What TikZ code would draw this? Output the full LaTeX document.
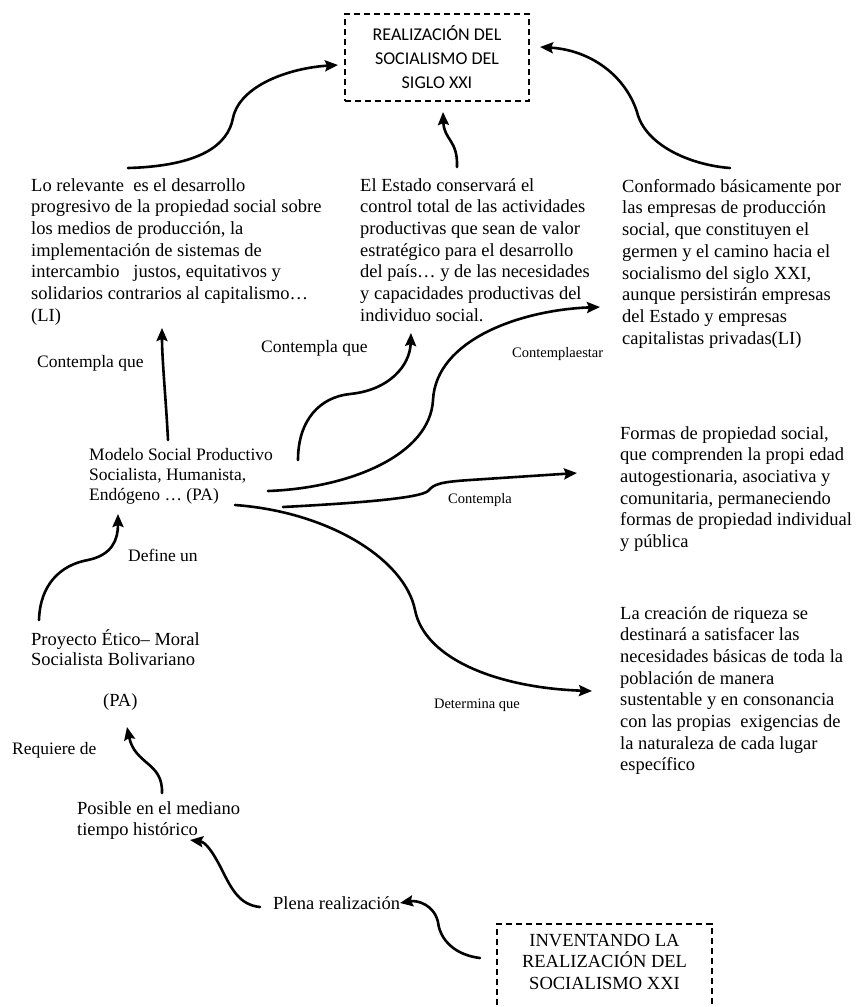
\documentclass[tikz,border=0pt]{standalone}
\usepackage{fontspec}
\setmainfont{Liberation Serif}
\newfontfamily\calibri{Carlito}
\usetikzlibrary{arrows.meta}

\begin{document}
\begin{tikzpicture}[
    x=1pt, y=-1pt,
    block/.style={anchor=north west, inner sep=0pt, align=left, font=\fontsize{18.5}{21.7}\selectfont},
    label/.style={anchor=west, inner sep=0pt, font=\fontsize{17.5}{20}\selectfont},
    smalllabel/.style={anchor=west, inner sep=0pt, font=\fontsize{14.5}{17}\selectfont},
    dbox/.style={draw, line width=1.8pt, dash pattern=on 6pt off 4pt, align=center},
    arrow/.style={-{Stealth[length=13pt,width=11pt,inset=2pt]}, line width=2.6pt, line cap=round}
]
    \clip (0,0) rectangle (855,1007);

    \node[dbox, minimum width=184pt, minimum height=87pt, font=\calibri\fontsize{18}{24}\selectfont] (goal) at (437,57.5) {REALIZACIÓN DEL\\SOCIALISMO DEL\\SIGLO XXI};
    \node[dbox, anchor=north, minimum width=215pt, inner ysep=10pt, text depth=30pt, font=\fontsize{18.5}{21.5}\selectfont] (inventando) at (604.5,923) {INVENTANDO LA\\REALIZACIÓN DEL\\SOCIALISMO XXI};

    \node[block] (relevante) at (31,178) {Lo relevante\ \ es el desarrollo\\progresivo de la propiedad social sobre\\los medios de producción, la\\implementación de sistemas de\\intercambio\ \ \ justos, equitativos y\\solidarios contrarios al capitalismo…\\(LI)};
    \node[block] (estado) at (360,178) {El Estado conservará el\\control total de las actividades\\productivas que sean de valor\\estratégico para el desarrollo\\del país… y de las necesidades\\y capacidades productivas del\\individuo social.};
    \node[block] (conformado) at (622,179) {Conformado básicamente por\\las empresas de producción\\social, que constituyen el\\germen y el camino hacia el\\socialismo del siglo XXI,\\aunque persistirán empresas\\del Estado y empresas\\capitalistas privadas(LI)};
    \node[block] (formas) at (620,426) {Formas de propiedad social,\\que comprenden la propi edad\\autogestionaria, asociativa y\\comunitaria, permaneciendo\\formas de propiedad individual\\y pública};
    \node[block] (riqueza) at (620,606) {La creación de riqueza se\\destinará a satisfacer las\\necesidades básicas de toda la\\población de manera\\sustentable y en consonancia\\con las propias\ \ exigencias de\\la naturaleza de cada lugar\\específico};
    \node[block, font=\fontsize{17.5}{20}\selectfont] (modelo) at (89,448) {Modelo Social Productivo\\Socialista, Humanista,\\Endógeno … (PA)};
    \node[block, font=\fontsize{18.5}{20}\selectfont] (proyecto) at (31,629) {Proyecto Ético– Moral\\Socialista Bolivariano};
    \node[label, font=\fontsize{18.5}{20}\selectfont] (pa) at (103,702) {(PA)};
    \node[block] (posible) at (77,801) {Posible en el mediano\\tiempo histórico};
    \node[label, font=\fontsize{18.5}{20}\selectfont] (plena) at (273,903) {Plena realización};

    \node[label] (quelist) at (37,363) {Contempla que};
    \node[label] (quecentro) at (261,348) {Contempla que};
    \node[smalllabel] (estar) at (512,354) {Contemplaestar};
    \node[smalllabel] (contempla) at (448,500) {Contempla};
    \node[smalllabel, anchor=east] (determina) at (520,705) {Determina que};
    \node[label] (define) at (128,555) {Define un};
    \node[label] (requiere) at (12,750) {Requiere de};

    \coordinate (relevante-out) at (128,168);
    \coordinate (conformado-out) at (730,168);
    \coordinate (estado-out) at (457,167);
    \coordinate (modelo-up) at (168,440);
    \coordinate (modelo-a) at (298,460);
    \coordinate (modelo-b) at (268,491);
    \coordinate (modelo-c) at (283,507);
    \coordinate (modelo-d) at (235,505);
    \coordinate (proyecto-out) at (39,620);
    \coordinate (posible-out) at (162,793);
    \coordinate (plena-out) at (260,907);
    \coordinate (inventando-out) at (480,958);

    \draw[arrow] (relevante-out) .. controls (200,166) and (228,145) .. (233,118) .. controls (240,85) and (290,68) .. (338,65);
    \draw[arrow] (conformado-out) .. controls (690,165) and (645,145) .. (637,112) .. controls (625,75) and (590,50) .. (540,47);
    \draw[arrow] (estado-out) .. controls (458,140) and (444,140) .. (443,112);
    \draw[arrow] (modelo-up) .. controls (166,400) and (162,360) .. (162,328);
    \draw[arrow] (modelo-a) .. controls (298,420) and (320,397) .. (350,394) .. controls (390,390) and (410,365) .. (411,333);
    \draw[arrow] (modelo-b) .. controls (350,488) and (430,455) .. (433,400) .. controls (436,340) and (520,310) .. (600,307);
    \draw[arrow] (modelo-c) .. controls (360,503) and (420,498) .. (428,491) .. controls (434,484) and (440,482) .. (470,480) -- (577,473);
    \draw[arrow] (modelo-d) .. controls (330,512) and (405,560) .. (415,610) .. controls (425,660) and (500,688) .. (592,691);
    \draw[arrow] (proyecto-out) .. controls (40,585) and (60,565) .. (88,560) .. controls (112,555) and (118,540) .. (118,514);
    \draw[arrow] (posible-out) .. controls (163,762) and (135,765) .. (127,727);
    \draw[arrow] (plena-out) .. controls (240,905) and (232,890) .. (222,870) .. controls (212,850) and (205,842) .. (190,840);
    \draw[arrow] (inventando-out) .. controls (455,955) and (440,940) .. (438,922) .. controls (434,905) and (418,900) .. (400,903);
\end{tikzpicture}
\end{document}
